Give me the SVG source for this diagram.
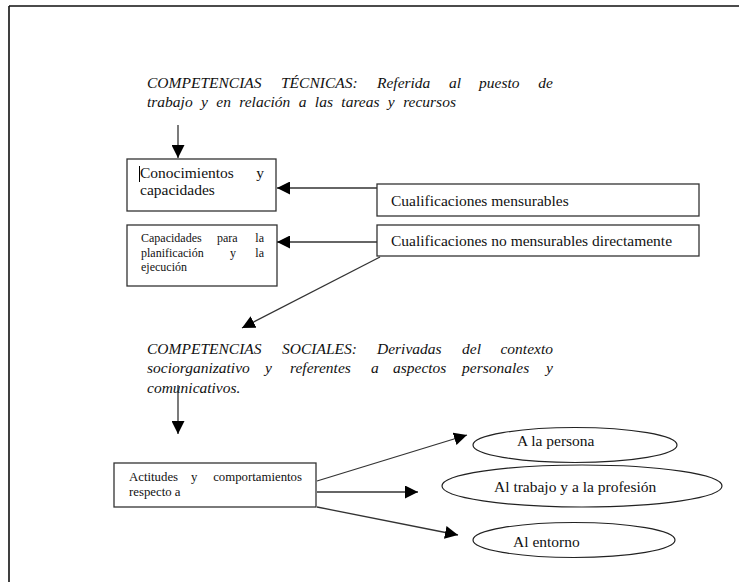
<svg xmlns="http://www.w3.org/2000/svg" width="739" height="582" viewBox="0 0 739 582">
<style>
.hd{font-family:"Liberation Serif","Times New Roman",serif;font-style:italic;font-size:15.5px;fill:#111}
.bx{font-family:"Liberation Serif","Times New Roman",serif;font-size:15.5px;fill:#111}
.sm{font-family:"Liberation Serif","Times New Roman",serif;font-size:12px;fill:#111}
.md{font-family:"Liberation Serif","Times New Roman",serif;font-size:12.8px;fill:#111}
.box{fill:#fff;stroke:#333;stroke-width:1.3}
.ell{fill:#fff;stroke:#222;stroke-width:1.2}
.ln{fill:none;stroke:#333;stroke-width:1.3}
</style>
<defs>
<marker id="ah" markerWidth="13" markerHeight="13" refX="13" refY="6.5" orient="auto" markerUnits="userSpaceOnUse">
<path d="M0,0 L13,6.5 L0,13 z" fill="#000"/>
</marker>
</defs>
<rect width="739" height="582" fill="#fff"/>
<g id="page-border">
<path d="M9,6 H739 M9,6 V582" fill="none" stroke="#111" stroke-width="1.6"/>
</g>
<g id="title-tecnicas">
<text class="hd" x="147" y="88">COMPETENCIAS</text>
<text class="hd" x="281" y="88">TÉCNICAS:</text>
<text class="hd" x="377" y="88">Referida</text>
<text class="hd" x="449" y="88">al</text>
<text class="hd" x="479" y="88">puesto</text>
<text class="hd" x="553" y="88" text-anchor="end">de</text>
<text class="hd" x="147" y="107" word-spacing="4.5">trabajo y en relación a las tareas y recursos</text>
</g>
<g id="title-sociales">
<text class="hd" x="147" y="354">COMPETENCIAS</text>
<text class="hd" x="282" y="354">SOCIALES:</text>
<text class="hd" x="377" y="354">Derivadas</text>
<text class="hd" x="462" y="354">del</text>
<text class="hd" x="553" y="354" text-anchor="end">contexto</text>
<text class="hd" x="147" y="373">sociorganizativo</text>
<text class="hd" x="265" y="373">y</text>
<text class="hd" x="290" y="373">referentes</text>
<text class="hd" x="371" y="373">a</text>
<text class="hd" x="393" y="373">aspectos</text>
<text class="hd" x="462" y="373">personales</text>
<text class="hd" x="553" y="373" text-anchor="end">y</text>
<text class="hd" x="147" y="393">comunicativos.</text>
</g>
<g id="n-conocimientos">
<rect class="box" x="127" y="159" width="149" height="52"/>
<line x1="139.5" y1="166" x2="139.5" y2="182" stroke="#000" stroke-width="1"/>
<text class="bx" x="140" y="178">Conocimientos</text>
<text class="bx" x="264" y="178" text-anchor="end">y</text>
<text class="bx" x="140" y="195">capacidades</text>
</g>
<g id="n-capacidades">
<rect class="box" x="127" y="225" width="150" height="61"/>
<text class="sm" x="141" y="242">Capacidades</text>
<text class="sm" x="217" y="242">para</text>
<text class="sm" x="264" y="242" text-anchor="end">la</text>
<text class="sm" x="141" y="257">planificación</text>
<text class="sm" x="230" y="257">y</text>
<text class="sm" x="264" y="257" text-anchor="end">la</text>
<text class="sm" x="141" y="271">ejecución</text>
</g>
<g id="n-mensurables">
<rect class="box" x="377" y="184" width="322" height="32"/>
<text class="bx" x="391" y="206">Cualificaciones mensurables</text>
</g>
<g id="n-no-mensurables">
<rect class="box" x="377" y="225" width="322" height="31"/>
<text class="bx" x="391" y="246">Cualificaciones no mensurables directamente</text>
</g>
<g id="n-actitudes">
<rect class="box" x="114" y="463" width="202" height="44"/>
<text class="md" x="129" y="481">Actitudes</text>
<text class="md" x="191" y="481">y</text>
<text class="md" x="302" y="481" text-anchor="end">comportamientos</text>
<text class="md" x="129" y="495.5">respecto a</text>
</g>
<g id="n-persona">
<ellipse class="ell" cx="575" cy="445" rx="102" ry="17.5"/>
<text class="bx" x="517" y="446">A la persona</text>
</g>
<g id="n-trabajo">
<ellipse class="ell" cx="582" cy="486" rx="140" ry="21"/>
<text class="bx" x="494" y="492">Al trabajo y a la profesión</text>
</g>
<g id="n-entorno">
<ellipse class="ell" cx="574" cy="540" rx="101" ry="17.5"/>
<text class="bx" x="513" y="547">Al entorno</text>
</g>
<g id="connectors">
<line class="ln" x1="178" y1="125" x2="178" y2="158" marker-end="url(#ah)"/>
<line class="ln" x1="377" y1="188" x2="277" y2="188" marker-end="url(#ah)"/>
<line class="ln" x1="377" y1="242" x2="277" y2="242" marker-end="url(#ah)"/>
<line class="ln" x1="380" y1="257" x2="242" y2="328" marker-end="url(#ah)"/>
<line class="ln" x1="178" y1="385" x2="178" y2="434" marker-end="url(#ah)"/>
<line class="ln" x1="317" y1="481" x2="467" y2="435" marker-end="url(#ah)"/>
<line class="ln" x1="317" y1="492" x2="418" y2="492" marker-end="url(#ah)"/>
<line class="ln" x1="317" y1="507" x2="458" y2="535" marker-end="url(#ah)"/>
</g>
</svg>
